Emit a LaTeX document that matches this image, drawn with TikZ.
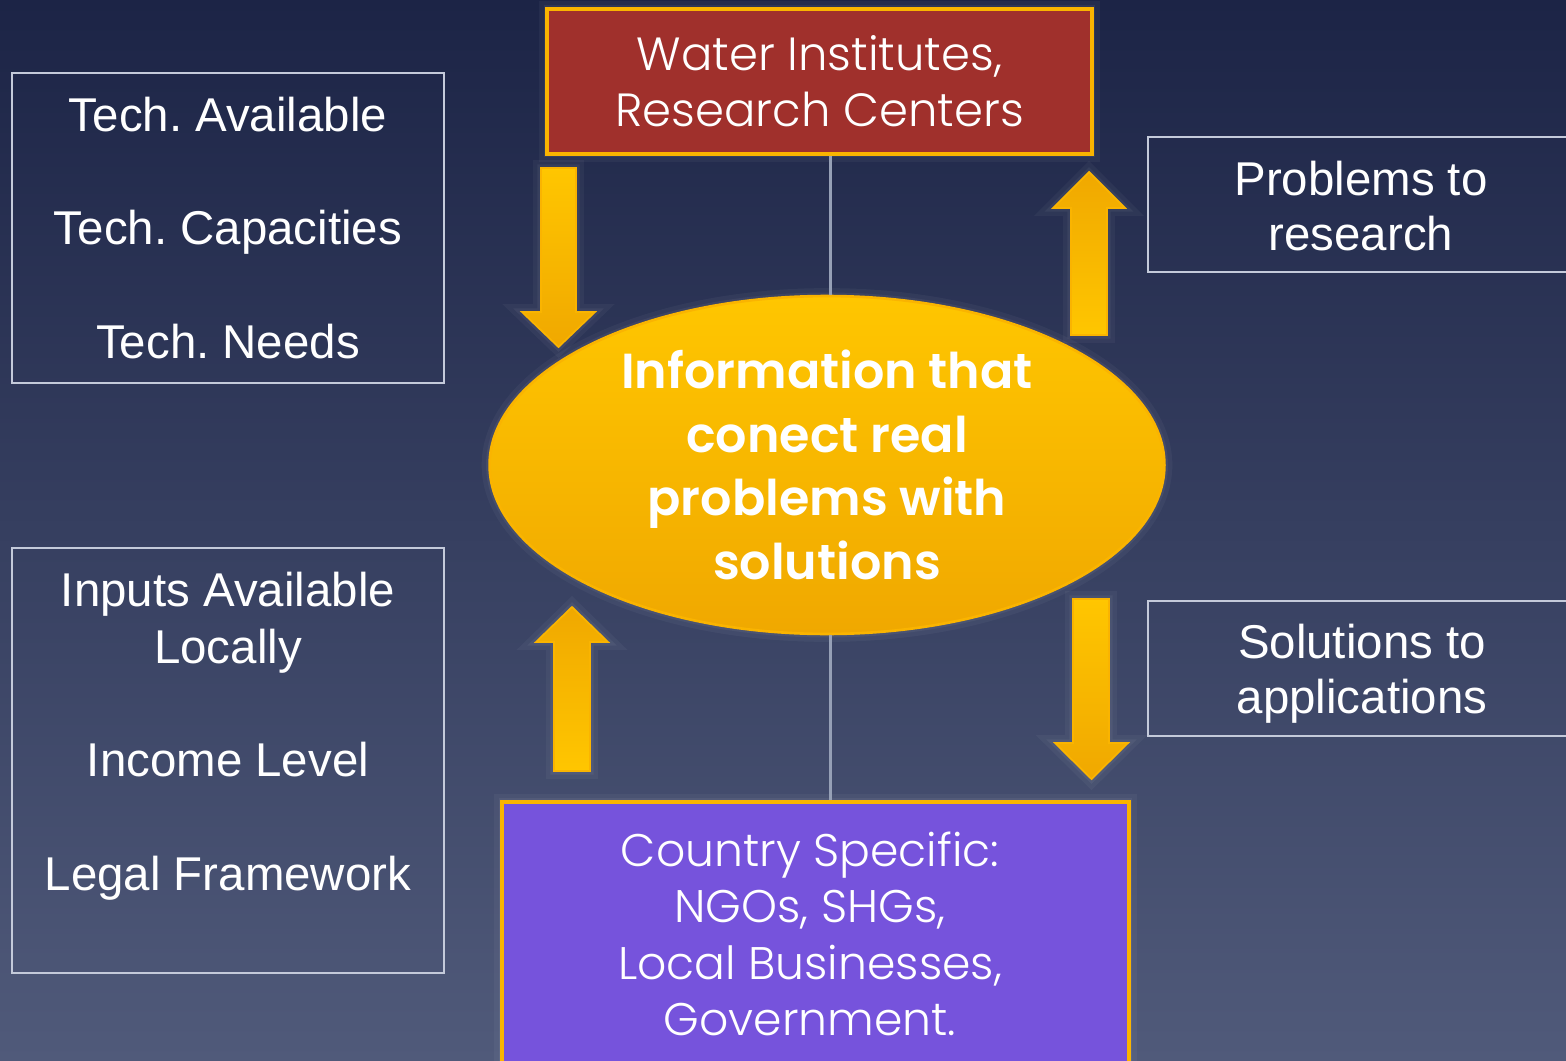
\documentclass[tikz,border=0pt]{standalone}
\usepackage{fontspec}
\setmainfont{Liberation Sans}
\newfontfamily\gothic{Poppins}[UprightFont=* Light, BoldFont=* SemiBold]
\usetikzlibrary{shapes.geometric}

\definecolor{bgtop}{RGB}{28,36,70}
\definecolor{bgbottom}{RGB}{80,90,122}
\definecolor{panelgray}{RGB}{196,202,218}
\definecolor{linegray}{RGB}{150,160,182}
\definecolor{boxorange}{RGB}{250,180,0}
\definecolor{waterred}{RGB}{160,48,44}
\definecolor{countrypurple}{RGB}{118,83,220}
\definecolor{infolight}{RGB}{255,198,0}
\definecolor{infodark}{RGB}{240,168,0}

\begin{document}
\frenchspacing
\begin{tikzpicture}[x=0.02cm, y=-0.02cm,
    halo/.style={preaction={draw=white, draw opacity=.04, line width=9pt},
                 preaction={draw=white, draw opacity=.05, line width=4pt}},
    panel/.style={draw=panelgray, line width=1.1pt, inner sep=0pt},
    paneltext/.style={text=white, align=center, font=\fontsize{27}{32.3}\selectfont},
    orgbox/.style={halo, draw=boxorange, line width=2pt, inner sep=0pt,
                   text=white, align=center, font=\gothic\fontsize{26.5}{31.8}\selectfont},
    connector/.style={draw=linegray, line width=1.7pt},
    blockarrow/.style={halo, draw=boxorange, line width=1pt, line join=miter}]

    % Background
    \fill[top color=bgtop, bottom color=bgbottom] (0,0) rectangle (1566,1061);
    \useasboundingbox (0,0) rectangle (1566,1061);

    % Side panels
    \node[panel, paneltext, minimum width=8.64cm, minimum height=6.2cm,
          font=\fontsize{27}{64.6}\selectfont] (tech) at (228,228)
        {Tech. Available\\Tech. Capacities\\Tech. Needs};
    \node[panel, minimum width=8.64cm, minimum height=8.5cm] (local) at (228,760.5) {};
    \node[paneltext] (localtext) at (228,736)
        {Inputs Available\\Locally\\[32.3pt]Income Level\\[32.3pt]Legal Framework};
    \node[panel, minimum width=9.06cm, minimum height=2.7cm, anchor=west] (problems) at (1147,204.5) {};
    \node[paneltext, font=\fontsize{27}{31.5}\selectfont] (problemstext) at (1361,206) {Problems to\\research};
    \node[panel, minimum width=9.06cm, minimum height=2.7cm, anchor=west] (solutions) at (1147,668.5) {};
    \node[paneltext, font=\fontsize{27}{31.5}\selectfont] (solutionstext) at (1362,674) {Solutions to\\applications};

    % Main boxes
    \node[orgbox, fill=waterred, minimum width=10.9cm, minimum height=2.9cm] (water) at (819.5,81.5)
        {Water Institutes,\\Research Centers};
    \node[orgbox, fill=countrypurple, minimum width=12.54cm, minimum height=5.5cm, anchor=north] (country) at (815.5,800) {};
    \node[text=white, align=center, font=\gothic\fontsize{26}{32.1}\selectfont] (countrytext) at (810,934)
        {Country Specific:\\NGOs, SHGs,\\Local Businesses,\\Government.};

    % Information ellipse
    \node[ellipse, halo, top color=infolight, bottom color=infodark, draw=boxorange, line width=1.5pt,
          minimum width=13.5cm, minimum height=6.76cm, inner sep=0pt, text=white, align=center,
          font=\gothic\bfseries\fontsize{28}{36.3}\selectfont] (info) at (827,465)
        {Information that\\conect real\\problems with\\solutions};

    % Links
    \draw[connector] ([xshift=0.06cm]info.north) -- ([xshift=0.06cm]info.north |- water.south);
    \draw[connector] ([xshift=0.06cm]info.south) -- ([xshift=0.06cm]info.south |- country.north);

    % Block arrows
    \draw[blockarrow, top color=infolight, bottom color=infodark]
        (541,168) -- (576,168) -- (576,312) -- (595,312) -- (558.5,347) -- (522,312) -- (541,312) -- cycle;
    \draw[blockarrow, top color=infodark, bottom color=infolight]
        (554,771) -- (590,771) -- (590,642) -- (608,642) -- (572,607) -- (536,642) -- (554,642) -- cycle;
    \draw[blockarrow, top color=infodark, bottom color=infolight]
        (1071,335) -- (1107,335) -- (1107,208) -- (1125,208) -- (1089,172) -- (1053,208) -- (1071,208) -- cycle;
    \draw[blockarrow, top color=infolight, bottom color=infodark]
        (1073,599) -- (1109,599) -- (1109,743) -- (1128,743) -- (1091.5,779) -- (1055,743) -- (1073,743) -- cycle;
\end{tikzpicture}
\end{document}
